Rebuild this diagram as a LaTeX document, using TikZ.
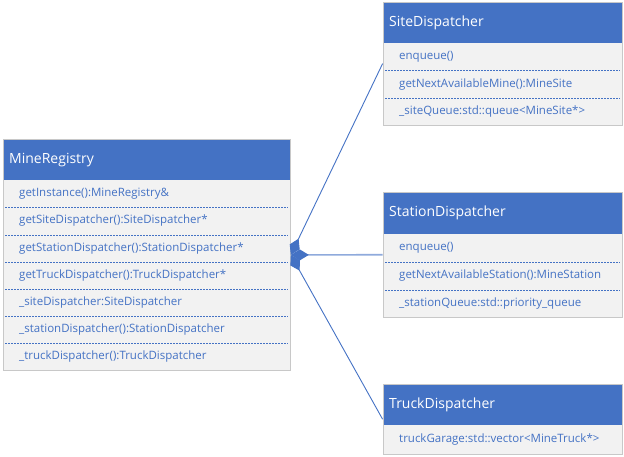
\documentclass[tikz,border=0pt]{standalone}
\usepackage{fontspec}
\setmainfont{Open Sans}
\usetikzlibrary{arrows.meta,fit}

\definecolor{hdrblue}{HTML}{4472C4}
\definecolor{rowgray}{HTML}{F2F2F2}
\definecolor{edgegray}{HTML}{C8C8C8}
\definecolor{lightblue}{HTML}{8FAADC}

\tikzset{
  hdr/.style={anchor=north west, rectangle, fill=hdrblue, text=white,
    inner xsep=6pt, inner ysep=0pt, align=left, font=\fontsize{14}{16}\selectfont},
  row/.style={anchor=north west, rectangle, fill=rowgray, text=hdrblue,
    inner xsep=16pt, inner ysep=0pt, align=left, font=\fontsize{11.5}{13}\selectfont},
  frame/.style={draw=edgegray, line width=0.8pt, inner sep=0pt},
  sep/.style={draw=hdrblue, dash pattern=on 2pt off 1pt, line width=0.6pt},
  assoc/.style={draw=hdrblue, line width=0.9pt,
    {Diamond[length=18pt, width=11pt, color=hdrblue, fill=hdrblue]}-},
}

\begin{document}
\begin{tikzpicture}[x=1pt, y=-1pt]
\useasboundingbox (0,0) rectangle (624,456);

% MineRegistry
\def\mw{287}
\node[hdr, text width=\mw-12, minimum height=41pt] (mrh) at (3,139) {MineRegistry};
\foreach \i/\t in {1/{getInstance():MineRegistry\&},
                   2/{getSiteDispatcher():SiteDispatcher*},
                   3/{getStationDispatcher():StationDispatcher*},
                   4/{getTruckDispatcher():TruckDispatcher*},
                   5/{\_siteDispatcher:SiteDispatcher},
                   6/{\_stationDispatcher():StationDispatcher},
                   7/{\_truckDispatcher():TruckDispatcher}}
  \node[row, text width=\mw-32, minimum height=27.2pt] (mr\i) at (3,{180+27.2*(\i-1)}) {\t};
\foreach \i in {1,...,6}
  \draw[sep] ([xshift=2pt]mr\i.south west) -- ([xshift=-2pt]mr\i.south east);
\node[frame, fit=(mrh)(mr7)] (mrbox) {};

% SiteDispatcher
\def\cw{239}
\node[hdr, text width=\cw-12, minimum height=41pt] (sdh) at (383,2) {SiteDispatcher};
\foreach \i/\t in {1/{enqueue()},
                   2/{getNextAvailableMine():MineSite},
                   3/{\_siteQueue:std::queue<MineSite*>}}
  \node[row, text width=\cw-32, minimum height=27.3pt] (sd\i) at (383,{43+27.3*(\i-1)}) {\t};
\foreach \i in {1,2}
  \draw[sep] ([xshift=2pt]sd\i.south west) -- ([xshift=-2pt]sd\i.south east);
\node[frame, fit=(sdh)(sd3)] (sdbox) {};

% StationDispatcher
\node[hdr, text width=\cw-12, minimum height=42pt] (sth) at (383,192) {StationDispatcher};
\foreach \i/\t in {1/{enqueue()},
                   2/{getNextAvailableStation():MineStation},
                   3/{\_stationQueue:std::priority\_queue}}
  \node[row, text width=\cw-32, minimum height=27.7pt] (st\i) at (383,{234+27.7*(\i-1)}) {\t};
\foreach \i in {1,2}
  \draw[sep] ([xshift=2pt]st\i.south west) -- ([xshift=-2pt]st\i.south east);
\node[frame, fit=(sth)(st3)] (stbox) {};

% TruckDispatcher
\node[hdr, text width=\cw-12, minimum height=41pt] (tdh) at (383,384) {TruckDispatcher};
\node[row, text width=\cw-32, minimum height=29pt] (td1) at (383,425) {truckGarage:std::vector<MineTruck*>};
\node[frame, fit=(tdh)(td1)] (tdbox) {};

% composition connectors
\draw[assoc] (mrbox.east) -- (sdbox.west);
\draw[assoc] (mrbox.east) -- (tdbox.west);
\draw[draw=lightblue, line width=1.6pt,
      {Diamond[length=18pt, width=11pt, color=hdrblue, fill=hdrblue, line width=0pt]}-] (mrbox.east) -- (stbox.west);
\end{tikzpicture}
\end{document}
